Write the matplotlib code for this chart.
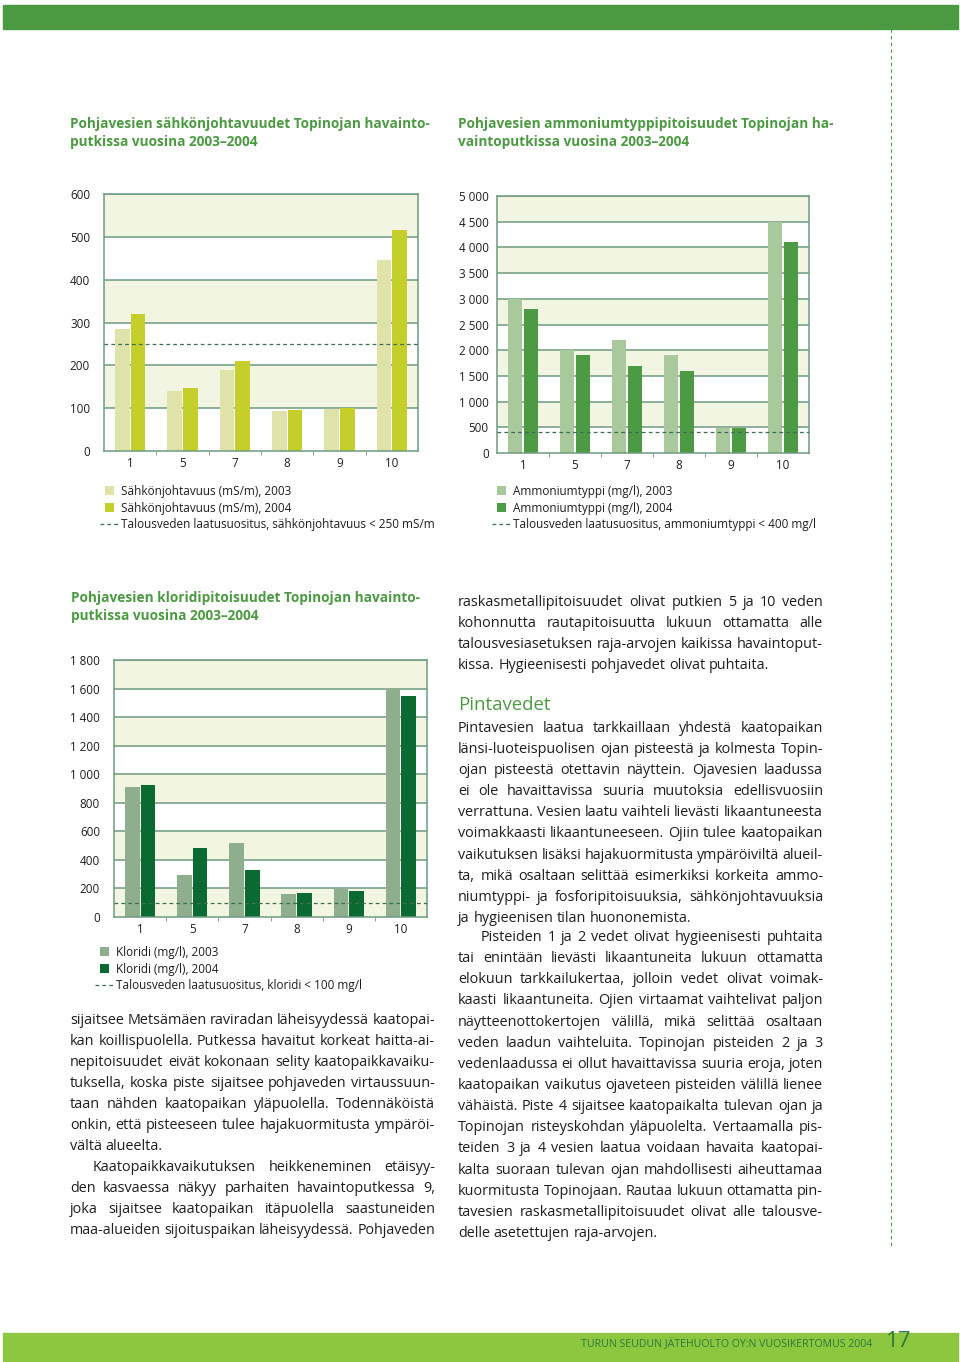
import matplotlib
matplotlib.use("Agg")
import matplotlib.pyplot as plt
import numpy as np
from matplotlib.patches import Rectangle
from matplotlib.lines import Line2D
from matplotlib.container import BarContainer
from matplotlib.legend_handler import HandlerPatch, update_from_first_child

W, H = 960, 1362
FONT = ["Open Sans", "DejaVu Sans"]
plt.rcParams["font.family"] = FONT

# --- data ---
putket = ["1", "5", "7", "8", "9", "10"]

sahko_2003 = [284, 140, 189, 93, 98, 445]
sahko_2004 = [320, 148, 210, 95, 100, 515]
sahko_raja = 250
sahko_ticks = [0, 100, 200, 300, 400, 500, 600]

ammo_2003 = [3000, 2000, 2200, 1900, 490, 4500]
ammo_2004 = [2800, 1900, 1700, 1600, 490, 4100]
ammo_raja = 400
ammo_ticks = [0, 500, 1000, 1500, 2000, 2500, 3000, 3500, 4000, 4500, 5000]

kloridi_2003 = [912, 297, 519, 161, 199, 1601]
kloridi_2004 = [923, 484, 332, 168, 182, 1548]
kloridi_raja = 100
kloridi_ticks = [0, 200, 400, 600, 800, 1000, 1200, 1400, 1600, 1800]

# --- body text ---
vasen_1 = [
    "sijaitsee Metsämäen raviradan läheisyydessä kaatopai-",
    "kan koillispuolella. Putkessa havaitut korkeat haitta-ai-",
    "nepitoisuudet eivät kokonaan selity kaatopaikkavaiku-",
    "tuksella, koska piste sijaitsee pohjaveden virtaussuun-",
    "taan nähden kaatopaikan yläpuolella. Todennäköistä",
    "onkin, että pisteeseen tulee hajakuormitusta ympäröi-",
    "vältä alueelta.",
]
vasen_2 = [
    "Kaatopaikkavaikutuksen heikkeneminen etäisyy-",
    "den kasvaessa näkyy parhaiten havaintoputkessa 9,",
    "joka sijaitsee kaatopaikan itäpuolella saastuneiden",
    "maa-alueiden sijoituspaikan läheisyydessä. Pohjaveden",
]
oikea_1 = [
    "raskasmetallipitoisuudet olivat putkien 5 ja 10 veden",
    "kohonnutta rautapitoisuutta lukuun ottamatta alle",
    "talousvesiasetuksen raja-arvojen kaikissa havaintoput-",
    "kissa. Hygieenisesti pohjavedet olivat puhtaita.",
]
oikea_2 = [
    "Pintavesien laatua tarkkaillaan yhdestä kaatopaikan",
    "länsi-luoteispuolisen ojan pisteestä ja kolmesta Topin-",
    "ojan pisteestä otettavin näyttein. Ojavesien laadussa",
    "ei ole havaittavissa suuria muutoksia edellisvuosiin",
    "verrattuna. Vesien laatu vaihteli lievästi likaantuneesta",
    "voimakkaasti likaantuneeseen. Ojiin tulee kaatopaikan",
    "vaikutuksen lisäksi hajakuormitusta ympäröiviltä alueil-",
    "ta, mikä osaltaan selittää esimerkiksi korkeita ammo-",
    "niumtyppi- ja fosforipitoisuuksia, sähkönjohtavuuksia",
    "ja hygieenisen tilan huononemista.",
]
oikea_3 = [
    "Pisteiden 1 ja 2 vedet olivat hygieenisesti puhtaita",
    "tai enintään lievästi likaantuneita lukuun ottamatta",
    "elokuun tarkkailukertaa, jolloin vedet olivat voimak-",
    "kaasti likaantuneita. Ojien virtaamat vaihtelivat paljon",
    "näytteenottokertojen välillä, mikä selittää osaltaan",
    "veden laadun vaihteluita. Topinojan pisteiden 2 ja 3",
    "vedenlaadussa ei ollut havaittavissa suuria eroja, joten",
    "kaatopaikan vaikutus ojaveteen pisteiden välillä lienee",
    "vähäistä. Piste 4 sijaitsee kaatopaikalta tulevan ojan ja",
    "Topinojan risteyskohdan yläpuolelta. Vertaamalla pis-",
    "teiden 3 ja 4 vesien laatua voidaan havaita kaatopai-",
    "kalta suoraan tulevan ojan mahdollisesti aiheuttamaa",
    "kuormitusta Topinojaan. Rautaa lukuun ottamatta pin-",
    "tavesien raskasmetallipitoisuudet olivat alle talousve-",
    "delle asetettujen raja-arvojen.",
]

GREEN = "#4b9a42"
CREAM = "#f3f5e3"
GRID = "#6e9a80"
DASH = "#3d6e52"
TEXT = "#1e1e1e"

fig = plt.figure(figsize=(W / 100, H / 100), dpi=100)
renderer = fig.canvas.get_renderer()


def fx(x):
    return x / W


def fy(y):
    return 1 - y / H


def box(l, t, r, b):
    return [fx(l), fy(b), (r - l) / W, (b - t) / H]


def measure(s, size, weight="normal"):
    t = fig.text(0, 0, s, fontsize=size, fontweight=weight)
    w = t.get_window_extent(renderer).width
    t.remove()
    return w


def fit(s, target, weight="normal"):
    # font size that gives the string the width it has on the page
    return 10 * target / measure(s, 10, weight)


BODY = 0.97 * fit("delle asetettujen raja-arvojen.", 205)
TITLE = fit("Pohjavesien sähkönjohtavuudet Topinojan havainto-", 360, "bold")
LEG = fit("Talousveden laatusuositus, sähkönjohtavuus < 250 mS/m", 316)
TICK = fit("5 000", 30)
FOOT = fit("TURUN SEUDUN JÄTEHUOLTO OY:N VUOSIKERTOMUS 2004", 289)


def fmt(v):
    return f"{v:,}".replace(",", " ")


def square(legend, orig_handle, xdescent, ydescent, width, height, fontsize):
    s = height
    return Rectangle((-xdescent + (width - s) / 2, -ydescent), s, s)


def chart(rect, v03, v04, c03, c04, ticks, raja, labels, leg_xy, ypad):
    ax = fig.add_axes(box(*rect))
    x = np.arange(len(putket))
    top = ticks[-1]
    step = ticks[1] - ticks[0]
    # alternating bands, cream from the top
    for i in range(len(ticks) - 1):
        if i % 2 == 0:
            ax.axhspan(top - (i + 1) * step, top - i * step, color=CREAM, lw=0, zorder=0)
    for t in ticks[1:]:
        ax.axhline(t, color=GRID, lw=1.1, zorder=1)
    w = 0.28
    b1 = ax.bar(x - w / 2 - 0.01, v03, w, color=c03, zorder=2, label=labels[0])
    b2 = ax.bar(x + w / 2 + 0.01, v04, w, color=c04, zorder=2, label=labels[1])
    ln = ax.axhline(raja, color=DASH, lw=0.9, ls=(0, (3, 2.5)), zorder=3, label=labels[2])
    ax.set_xlim(-0.5, len(putket) - 0.5)
    ax.set_ylim(0, top)
    ax.set_yticks(ticks)
    ax.set_yticklabels([fmt(t) for t in ticks], fontsize=TICK, color=TEXT)
    ax.set_xticks(x)
    ax.set_xticklabels(putket, fontsize=TICK, color=TEXT)
    ax.set_xticks(np.arange(len(putket) - 1) + 0.5, minor=True)
    ax.tick_params(axis="y", length=0, pad=ypad)
    ax.tick_params(axis="x", which="major", length=0, pad=4)
    ax.tick_params(axis="x", which="minor", length=3, color=GRID, direction="out")
    for s in ax.spines.values():
        s.set_color(GRID)
        s.set_linewidth(1.1)
    ax.legend(handles=[b1, b2, ln], loc="upper left",
              bbox_to_anchor=(fx(leg_xy[0]), fy(leg_xy[1])), bbox_transform=fig.transFigure,
              frameon=False, fontsize=LEG, handlelength=1.55, handleheight=0.8,
              handletextpad=0.2, labelspacing=0.3, borderpad=0, borderaxespad=0,
              handler_map={BarContainer: HandlerPatch(patch_func=square,
                                                      update_func=update_from_first_child)},
              labelcolor=TEXT)
    return ax


chart((104, 194, 418, 451), sahko_2003, sahko_2004, "#dfe3a9", "#c4cf2b",
      sahko_ticks, sahko_raja,
      ["Sähkönjohtavuus (mS/m), 2003", "Sähkönjohtavuus (mS/m), 2004",
       "Talousveden laatusuositus, sähkönjohtavuus < 250 mS/m"], (100, 485), 10)
chart((497, 196, 809, 453), ammo_2003, ammo_2004, "#a9c89b", "#4c9a44",
      ammo_ticks, ammo_raja,
      ["Ammoniumtyppi (mg/l), 2003", "Ammoniumtyppi (mg/l), 2004",
       "Talousveden laatusuositus, ammoniumtyppi < 400 mg/l"], (492, 485), 6)
chart((114, 660, 427, 917), kloridi_2003, kloridi_2004, "#8fae8e", "#0b6a32",
      kloridi_ticks, kloridi_raja,
      ["Kloridi (mg/l), 2003", "Kloridi (mg/l), 2004",
       "Talousveden laatusuositus, kloridi < 100 mg/l"], (95, 946), 10)

# --- page furniture ---
fig.patches.append(Rectangle((fx(3), fy(29)), fx(955), 24 / H, color=GREEN,
                             transform=fig.transFigure, zorder=0))
fig.patches.append(Rectangle((fx(3), fy(1361)), fx(955), 28 / H, color="#8dc63f",
                             transform=fig.transFigure, zorder=0))
fig.lines.append(Line2D([fx(891), fx(891)], [fy(29), fy(1246)], color=GREEN, lw=0.8,
                        ls=(0, (3, 3)), transform=fig.transFigure))
fig.text(fx(872), fy(1347), "TURUN SEUDUN JÄTEHUOLTO OY:N VUOSIKERTOMUS 2004",
         ha="right", va="baseline", fontsize=FOOT, color="#2b7a3b")
fig.text(fx(886), fy(1347), "17", ha="left", va="baseline", fontsize=16, color="#2b7a3b")

title_kw = dict(fontsize=TITLE, fontweight="bold", color=GREEN, ha="left", va="baseline")
fig.text(fx(70), fy(128), "Pohjavesien sähkönjohtavuudet Topinojan havainto-", **title_kw)
fig.text(fx(70), fy(146), "putkissa vuosina 2003–2004", **title_kw)
fig.text(fx(458), fy(128), "Pohjavesien ammoniumtyppipitoisuudet Topinojan ha-", **title_kw)
fig.text(fx(458), fy(146), "vaintoputkissa vuosina 2003–2004", **title_kw)
fig.text(fx(71), fy(602), "Pohjavesien kloridipitoisuudet Topinojan havainto-", **title_kw)
fig.text(fx(71), fy(620), "putkissa vuosina 2003–2004", **title_kw)


# --- justified paragraphs, word by word ---
def paragraph(lines, x0, x1, y0, dy, indent=0, ends=True):
    for i, line in enumerate(lines):
        words = line.split()
        xs = x0 + (indent if i == 0 else 0)
        size = BODY
        ws = [measure(w, size) for w in words]
        last = ends and i == len(lines) - 1
        n = len(words) - 1
        if not last and n and sum(ws) + 2.5 * n > x1 - xs:
            # too long for the column: set this line a touch smaller
            size = BODY * (x1 - xs - 2.5 * n) / sum(ws)
            ws = [measure(w, size) for w in words]
        if last or n == 0:
            gap = measure("a a", size) - measure("aa", size)
        else:
            gap = (x1 - xs - sum(ws)) / n
        y = y0 + i * dy
        for w, wd in zip(words, ws):
            fig.text(fx(xs), fy(y + 5), w, fontsize=size, color=TEXT,
                     ha="left", va="baseline")
            xs += wd + gap


paragraph(vasen_1, 70, 435, 1019, 21)
paragraph(vasen_2, 70, 435, 1166, 21, indent=23, ends=False)
paragraph(oikea_1, 458, 823, 601, 21)
fig.text(fx(458), fy(710), "Pintavedet", fontsize=BODY * 1.3, color=GREEN,
         ha="left", va="baseline")
paragraph(oikea_2, 458, 823, 727, 21.1)
paragraph(oikea_3, 458, 823, 936, 21.14, indent=23)

fig.savefig("out.png", dpi=100)
